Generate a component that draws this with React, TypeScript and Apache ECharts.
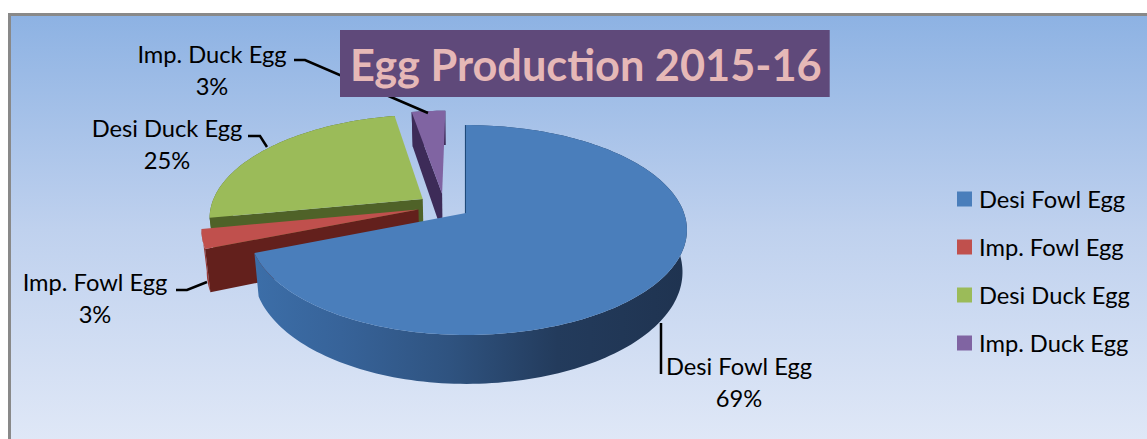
import React, { useEffect, useRef } from "react";
import * as echarts from "echarts";

const categories = ["Desi Fowl Egg", "Imp. Fowl Egg", "Desi Duck Egg", "Imp. Duck Egg"];
const shares = [69, 3, 25, 3];
const titleText = "Egg Production 2015-16";

const topColors = ["#4a7ebb", "#c0504d", "#9bbb59", "#8064a2"];
const wallColors = ["#2d4f76", "#9a3a37", "#4f6228", "#3d2b58"];
const radialColors = ["#2a5485", "#63201c", "#4f6228", "#3d2b58"];
const drawOrder = [30, 20, 5, 10];
const labelBoxes = [
  { x: 739, y: 366 },
  { x: 95, y: 282 },
  { x: 167, y: 128 },
  { x: 212, y: 54 },
];
const leaderLines = [
  [[661, 323], [661, 374]],
  [[176, 290], [187, 290], [207, 282]],
  [[248, 136], [260, 136], [267, 147]],
  [[294, 60], [305, 60], [428, 113]],
];

const FONT = "Lato";
const CX = 466, CY = 213, RX = 218, RX_LEFT = 214, RY = 102.2, PERSP = 0.162, EXPLODE = 0.125, DEPTH = 41, BOTTOM_SCALE = 0.98;
const total = shares.reduce((a, b) => a + b, 0);

function sliceAngles(i: number) {
  let s = 0;
  for (let k = 0; k < i; k++) s += shares[k];
  const a0 = (s / total) * Math.PI * 2;
  const a1 = ((s + shares[i]) / total) * Math.PI * 2;
  return [a0, a1];
}
const blueMid = (sliceAngles(0)[0] + sliceAngles(0)[1]) / 2;
// pie centre in plane coordinates, with the first slice's apex at the origin
const PX = -EXPLODE * Math.sin(blueMid);
const PY = -EXPLODE * Math.cos(blueMid);

function project(X: number, Y: number, bottom: boolean) {
  const w = 1 + PERSP * Y;
  const sx = ((X >= 0 ? RX : RX_LEFT) * X) / w;
  const sy = (-RY * Y) / w;
  if (!bottom) return [CX + sx, CY + sy];
  return [CX + sx * BOTTOM_SCALE, CY + sy + DEPTH / w];
}

function renderSlice(i: number) {
  return () => {
    const [a0, a1] = sliceAngles(i);
    const mid = (a0 + a1) / 2;
    const ox = PX + EXPLODE * Math.sin(mid);
    const oy = PY + EXPLODE * Math.cos(mid);
    const n = Math.max(4, Math.ceil((a1 - a0) * 40));
    const arc = (bottom: boolean) => {
      const pts: number[][] = [];
      for (let k = 0; k <= n; k++) {
        const a = a0 + ((a1 - a0) * k) / n;
        pts.push(project(ox + Math.sin(a), oy + Math.cos(a), bottom));
      }
      return pts;
    };
    const topArc = arc(false);
    const botArc = arc(true);
    const apexT = project(ox, oy, false);
    const apexB = project(ox, oy, true);
    const wallFill = i === 0
      ? new echarts.graphic.LinearGradient(255, 0, 687, 0, [
          { offset: 0, color: "#3c6ea8" },
          { offset: 0.2, color: "#376399" },
          { offset: 0.45, color: "#2f5380" },
          { offset: 0.7, color: "#233b5c" },
          { offset: 1, color: "#1f3350" },
        ], true)
      : wallColors[i];
    const children: any[] = [
      { type: "polygon", shape: { points: [...topArc, ...botArc.slice().reverse()] }, style: { fill: wallFill } },
    ];
    if (i === 0) {
      children.push({ type: "line", shape: { x1: topArc[0][0] - 0.5, y1: topArc[0][1], x2: apexT[0] - 0.5, y2: apexT[1] + 3 }, style: { stroke: "#1f4a7a", lineWidth: 1.2 } });
    } else {
      children.push({ type: "polygon", shape: { points: [apexT, topArc[0], botArc[0], apexB] }, style: { fill: radialColors[i] } });
    }
    children.push({ type: "polygon", shape: { points: [apexT, ...topArc] }, style: { fill: topColors[i] } });
    // leader and label are drawn from the same data row
    children.push({ type: "polyline", shape: { points: leaderLines[i] }, style: { stroke: "#000000", lineWidth: 2.5, fill: "none" } });
    children.push({
      type: "text",
      style: {
        x: labelBoxes[i].x,
        y: labelBoxes[i].y - 16,
        text: `${categories[i]}\n${shares[i]}%`,
        align: "center",
        verticalAlign: "top",
        fontFamily: FONT,
        fontSize: 23.7,
        lineHeight: 32,
        fill: "#000000",
      },
    });
    return { type: "group", children };
  };
}

export default function App() {
  const ref = useRef<HTMLDivElement>(null);
  useEffect(() => {
    const chart = echarts.init(ref.current!, null, { renderer: "svg" });
    chart.setOption({
      animation: false,
      color: topColors,
      backgroundColor: "#ffffff",
      title: {
        text: titleText,
        left: 340,
        top: 30,
        padding: [9, 8, 9, 10],
        backgroundColor: "#5f497a",
        textStyle: { color: "#e6b8b7", fontFamily: FONT, fontWeight: "bold", fontSize: 43.3, lineHeight: 49 },
        z: 20,
      },
      legend: {
        data: categories,
        orient: "vertical",
        left: 952,
        top: 182,
        itemWidth: 15,
        itemHeight: 15,
        itemGap: 24,
        icon: "rect",
        selectedMode: false,
        textStyle: { fontFamily: FONT, fontSize: 23.7, lineHeight: 24, color: "#000000", padding: [0, 0, 0, 2] },
      },
      graphic: [
        {
          type: "rect",
          z: -10,
          silent: true,
          shape: { x: 9.5, y: 14.5, width: 1200, height: 430 },
          style: {
            fill: { type: "linear", x: 0, y: 0, x2: 0, y2: 1, colorStops: [
              { offset: 0, color: "#8db2e3" },
              { offset: 0.5, color: "#bfd1ee" },
              { offset: 1, color: "#e0e8f7" },
            ] },
            stroke: "#898989",
            lineWidth: 3,
          },
        },
      ],
      series: categories.map((name, i) => ({
        type: "custom",
        name,
        coordinateSystem: "none",
        z: drawOrder[i],
        silent: true,
        itemStyle: { color: topColors[i] },
        data: [shares[i]],
        renderItem: renderSlice(i),
      })),
    });
    return () => chart.dispose();
  }, []);
  return <div ref={ref} style={{ position: "absolute", left: 0, top: 0, width: 1147, height: 439 }} />;
}
